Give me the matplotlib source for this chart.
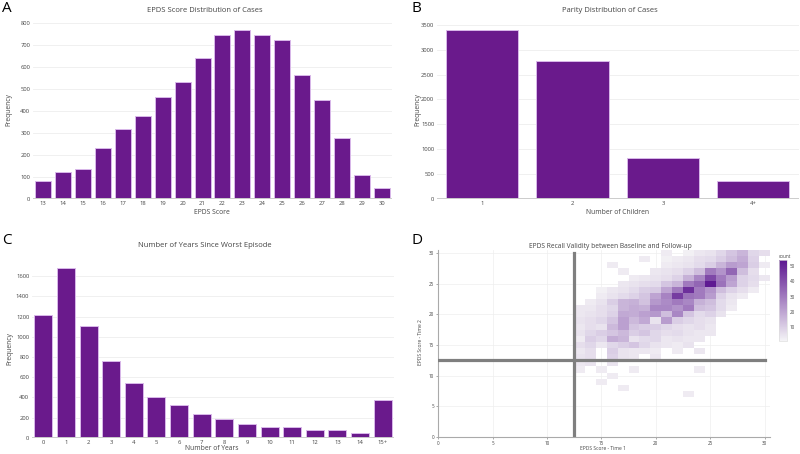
import numpy as np
import matplotlib.pyplot as plt
from matplotlib.colors import LinearSegmentedColormap

plt.rcParams['font.family'] = ['Open Sans', 'DejaVu Sans']

# panel A - EPDS score distribution
epds_scores = [str(s) for s in range(13, 31)]
epds_freq = [80, 120, 135, 233, 316, 379, 462, 534, 643, 748, 768, 747, 725, 563, 450, 277, 110, 50]

# panel B - parity
parity_labels = ['1', '2', '3', '4+']
parity_freq = [3390, 2780, 810, 360]

# panel C - years since worst episode
years_labels = [str(y) for y in range(15)] + ['15+']
years_freq = [1220, 1676, 1107, 760, 539, 400, 324, 231, 182, 132, 106, 106, 79, 79, 50, 370]

# panel D - 2d histogram counts, rows y=30 down to y=7, columns x=13..30
time1_bins = np.arange(13, 31)
time2_bins = np.arange(30, 6, -1)
recall_counts = [
    [0, 0, 0, 0, 0, 0, 0, 0, 3, 0, 2, 4, 5, 8, 12, 16, 8, 6],
    [0, 0, 0, 0, 0, 0, 3, 0, 2, 3, 4, 6, 7, 10, 14, 18, 9, 0],
    [0, 0, 0, 3, 0, 0, 0, 0, 3, 4, 5, 7, 10, 16, 22, 20, 10, 3],
    [0, 0, 0, 0, 3, 0, 0, 4, 5, 6, 9, 14, 30, 24, 35, 14, 6, 0],
    [0, 0, 0, 0, 0, 3, 4, 5, 6, 9, 17, 27, 42, 30, 22, 9, 7, 4],
    [0, 0, 0, 0, 4, 5, 6, 7, 12, 16, 30, 35, 53, 32, 20, 9, 6, 0],
    [0, 0, 2, 4, 5, 7, 10, 11, 20, 30, 48, 30, 24, 14, 9, 6, 3, 0],
    [0, 0, 3, 5, 7, 9, 12, 20, 28, 45, 32, 30, 22, 9, 5, 3, 0, 0],
    [0, 3, 5, 10, 16, 17, 13, 23, 26, 30, 27, 17, 14, 7, 4, 0, 0, 0],
    [4, 4, 6, 8, 16, 18, 17, 27, 27, 24, 30, 14, 12, 7, 3, 0, 0, 0],
    [4, 5, 6, 9, 19, 18, 21, 23, 14, 27, 12, 7, 9, 5, 0, 0, 0, 0],
    [5, 6, 8, 12, 21, 15, 19, 5, 22, 10, 8, 6, 5, 0, 0, 0, 0, 0],
    [4, 6, 5, 15, 21, 12, 10, 10, 8, 6, 5, 6, 4, 0, 0, 0, 0, 0],
    [5, 8, 10, 12, 15, 10, 12, 8, 6, 7, 5, 4, 4, 0, 0, 0, 0, 0],
    [3, 10, 8, 18, 16, 5, 7, 8, 4, 5, 4, 4, 0, 0, 0, 0, 0, 0],
    [6, 8, 4, 8, 10, 12, 8, 5, 4, 3, 5, 0, 0, 0, 0, 0, 0, 0],
    [4, 6, 0, 10, 5, 4, 4, 3, 0, 3, 0, 4, 0, 0, 0, 0, 0, 0],
    [5, 6, 0, 9, 5, 4, 0, 4, 0, 0, 0, 0, 0, 0, 0, 0, 0, 0],
    [4, 5, 0, 5, 0, 0, 0, 0, 0, 0, 0, 0, 0, 0, 0, 0, 0, 0],
    [3, 0, 3, 0, 0, 3, 0, 0, 0, 0, 0, 3, 0, 0, 0, 0, 0, 0],
    [0, 0, 0, 3, 0, 0, 0, 0, 0, 0, 0, 0, 0, 0, 0, 0, 0, 0],
    [0, 0, 3, 0, 0, 0, 0, 0, 0, 0, 0, 0, 0, 0, 0, 0, 0, 0],
    [0, 0, 0, 0, 3, 0, 0, 0, 0, 0, 0, 0, 0, 0, 0, 0, 0, 0],
    [0, 0, 0, 0, 0, 0, 0, 0, 0, 0, 3, 0, 0, 0, 0, 0, 0, 0],
]
epds_cutoff = 12.5
epds_max = 30

PURPLE = '#6a1a8c'
EDGE = '#d9b8ea'
TXT = '#444444'

W, H = 800, 454
fig = plt.figure(figsize=(W / 100, H / 100), dpi=100)


def box(l, t, r, b):
    return [l / W, 1 - b / H, (r - l) / W, (b - t) / H]


def put(x, y, s, **kw):
    kw.setdefault('color', TXT)
    kw.setdefault('ha', 'center')
    kw.setdefault('va', 'center')
    fig.text(x / W, 1 - y / H, s, **kw)


def bars(rect, labels, values, ymax, yticks):
    ax = fig.add_axes(rect)
    pos = np.arange(len(labels))
    ax.bar(pos, values, width=0.8, color=PURPLE, edgecolor=EDGE, linewidth=0.7, zorder=3)
    ax.set_xlim(-0.5, len(labels) - 0.5)
    ax.set_ylim(0, ymax)
    ax.set_xticks(pos, labels)
    ax.set_yticks(yticks)
    ax.grid(axis='y', color='#eeeeee', lw=0.6, zorder=0)
    for s in ax.spines.values():
        s.set_visible(False)
    ax.axhline(0, color='#cccccc', lw=1.4, zorder=4)
    ax.tick_params(length=0, labelsize=4.2, colors=TXT, pad=2)
    return ax


# A
bars(box(33, 21.1, 392, 198.7), epds_scores, epds_freq, 810, range(0, 801, 100))
put(205, 11, 'EPDS Score Distribution of Cases', fontsize=5.5)
put(212, 212, 'EPDS Score', fontsize=4.9)
put(9, 110, 'Frequency', fontsize=4.9, rotation=90)
put(2, 8, 'A', fontsize=11, ha='left', color='black')

# B
bars(box(437, 21.5, 798.5, 198.7), parity_labels, parity_freq, 3570, range(0, 3501, 500))
put(610, 11, 'Parity Distribution of Cases', fontsize=5.5)
put(618, 212, 'Number of Children', fontsize=4.9)
put(418, 110, 'Frequency', fontsize=4.9, rotation=90)
put(411, 8, 'B', fontsize=11, ha='left', color='black')

# C
bars(box(32, 260, 394, 437.7), years_labels, years_freq, 1760, range(0, 1601, 200))
put(204.5, 245.3, 'Number of Years Since Worst Episode', fontsize=5.5)
put(212, 449, 'Number of Years', fontsize=4.9)
put(10, 348.7, 'Frequency', fontsize=4.9, rotation=90)
put(2, 241, 'C', fontsize=11, ha='left', color='black')

# D
cmap = LinearSegmentedColormap.from_list('epds', ['#f4f3f6', '#5c1790'])
ax = fig.add_axes(box(438.3, 250, 770, 437))
Z = np.ma.masked_equal(np.array(recall_counts)[::-1], 0)
xe = np.append(time1_bins - 0.5, time1_bins[-1] + 0.5)
ye = np.append(time2_bins[::-1] - 0.5, time2_bins[0] + 0.5)
mesh = ax.pcolormesh(xe, ye, Z, cmap=cmap, vmin=1, vmax=54, zorder=2)
ax.plot([epds_cutoff, epds_cutoff], [0, epds_max], color='#7f7f7f', lw=2.3, zorder=3)
ax.plot([0, epds_max], [epds_cutoff, epds_cutoff], color='#7f7f7f', lw=2.3, zorder=3)
ax.set_xlim(0, 30.5)
ax.set_ylim(0, 30.5)
ax.set_xticks(range(0, 31, 5))
ax.set_yticks(range(0, 31, 5))
ax.grid(color='#eeeeee', lw=0.5, zorder=0)
for s in ['top', 'right']:
    ax.spines[s].set_visible(False)
for s in ['left', 'bottom']:
    ax.spines[s].set_color('#aaaaaa')
    ax.spines[s].set_linewidth(0.8)
ax.tick_params(length=1.5, width=0.5, color='#888888', labelsize=3.3, labelcolor=TXT, pad=1.5)
put(610, 246, 'EPDS Recall Validity between Baseline and Follow-up', fontsize=4.8)
put(603, 449, 'EPDS Score - Time 1', fontsize=3.6)
put(420.7, 342, 'EPDS Score - Time 2', fontsize=3.6, rotation=90)
put(411, 241, 'D', fontsize=11, ha='left', color='black')

cax = fig.add_axes(box(779, 260, 787.3, 340.7))
cb = fig.colorbar(mesh, cax=cax, ticks=[10, 20, 30, 40, 50])
cb.outline.set_edgecolor('#dddddd')
cb.outline.set_linewidth(0.5)
cax.tick_params(length=0, labelsize=3.3, labelcolor=TXT, pad=2)
put(779, 256.5, 'count', fontsize=3.3, ha='left')

fig.savefig('out.png', dpi=100)
